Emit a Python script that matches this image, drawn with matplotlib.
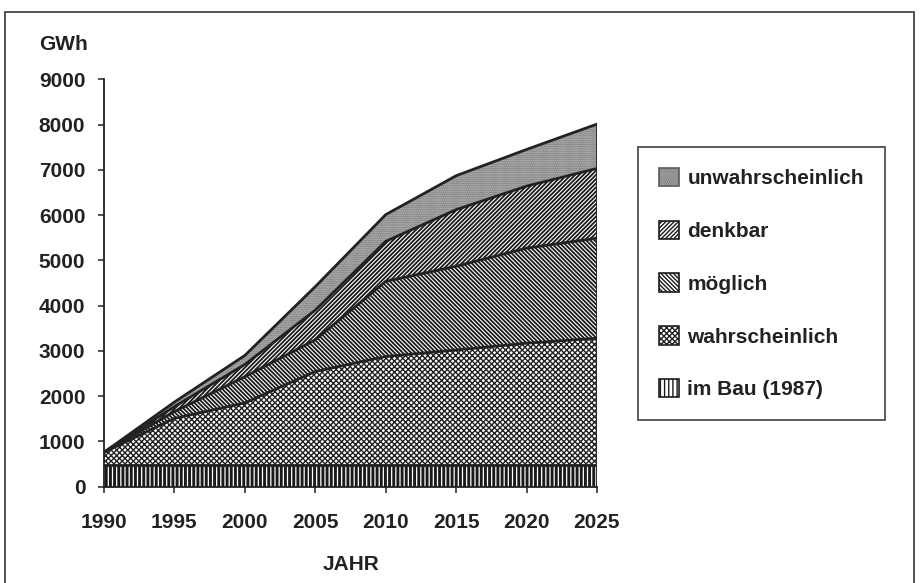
import numpy as np
import matplotlib.pyplot as plt
from matplotlib.patches import Patch, Rectangle

years = [1990, 1995, 2000, 2005, 2010, 2015, 2020, 2025]
# GWh per category (stacked from bottom)
im_bau = [480, 480, 480, 480, 480, 480, 480, 480]
wahrscheinlich = [280, 1030, 1370, 2065, 2395, 2540, 2690, 2800]
moeglich = [0, 150, 580, 700, 1660, 1850, 2100, 2210]
denkbar = [0, 110, 270, 655, 885, 1250, 1370, 1540]
unwahrscheinlich = [0, 100, 200, 520, 590, 750, 810, 980]

labels = ['im Bau (1987)', 'wahrscheinlich', 'möglich', 'denkbar', 'unwahrscheinlich']
series = [im_bau, wahrscheinlich, moeglich, denkbar, unwahrscheinlich]
hatches = ['||||', 'xxxxxx', '\\' * 8, '/' * 8, '.' * 9]
faces = ['white', 'white', 'white', 'white', '#cfcfcf']
hcols = ['#1a1a1a', '#222222', '#1a1a1a', '#1a1a1a', '#5a5a5a']
hlw = [2.1, 1.0, 1.3, 1.3, 0.9]

plt.rcParams['font.family'] = ['Liberation Sans', 'DejaVu Sans']
plt.rcParams['font.weight'] = 'bold'
dark = '#222222'

fig = plt.figure(figsize=(9.22, 5.83), dpi=100)
ax = fig.add_axes([104 / 922, 1 - 486.7 / 583, (597 - 104) / 922, (486.7 - 79.3) / 583])

x = np.array(years)
tops = np.cumsum(np.array(series, dtype=float), axis=0)
bottom = np.zeros(len(years))
for i in range(len(series)):
    with plt.rc_context({'hatch.linewidth': hlw[i]}):
        ax.fill_between(x, bottom, tops[i], facecolor=faces[i], edgecolor=hcols[i],
                        hatch=hatches[i], linewidth=0)
    ax.plot(x, tops[i], color=dark, linewidth=2.0, solid_joinstyle='miter')
    bottom = tops[i]
ax.plot([years[-1], years[-1]], [0, tops[-1][-1]], color=dark, linewidth=2.0)

ax.set_xlim(1990, 2025)
ax.set_ylim(0, 9000)
ax.set_xticks(years)
ax.set_yticks(range(0, 9001, 1000))
for s in ['top', 'right']:
    ax.spines[s].set_visible(False)
for s in ['left', 'bottom']:
    ax.spines[s].set_linewidth(1.3)
    ax.spines[s].set_color(dark)
ax.tick_params(axis='y', length=4.5, width=1.1, pad=9, labelsize=15, colors=dark)
ax.tick_params(axis='x', length=4, width=1.1, pad=15, labelsize=15, colors=dark)

ax.set_xlabel('JAHR', fontsize=15, fontweight='bold', color=dark, va='center')
ax.xaxis.set_label_coords(0.5, -(565 - 486.7) / (486.7 - 79.3))
fig.text(63 / 922, 1 - 45 / 583, 'GWh', fontsize=15, fontweight='bold', color=dark,
         ha='center', va='center')

handles = []
for i in range(len(series)):
    with plt.rc_context({'hatch.linewidth': hlw[i]}):
        handles.append(Patch(facecolor=faces[i], edgecolor=hcols[i], hatch=hatches[i],
                             linewidth=1.2))
leg = fig.legend(handles[::-1], labels[::-1], loc='upper left',
                 bbox_to_anchor=(638 / 922, 1 - 147 / 583), bbox_transform=fig.transFigure,
                 fontsize=15, frameon=True, fancybox=False, borderaxespad=0,
                 handlelength=0.97, handleheight=1.0, handletextpad=0.4,
                 labelspacing=1.55, borderpad=1.0)
leg.get_frame().set_edgecolor(dark)
leg.get_frame().set_linewidth(1.3)
for t in leg.get_texts():
    t.set_color(dark)

# outer frame
fig.patches.append(Rectangle((5 / 922, -0.05), (914 - 5) / 922, 1 - 12 / 583 + 0.05,
                             transform=fig.transFigure, fill=False, edgecolor='#444444',
                             linewidth=1.3))

fig.savefig('out.png', dpi=100)
